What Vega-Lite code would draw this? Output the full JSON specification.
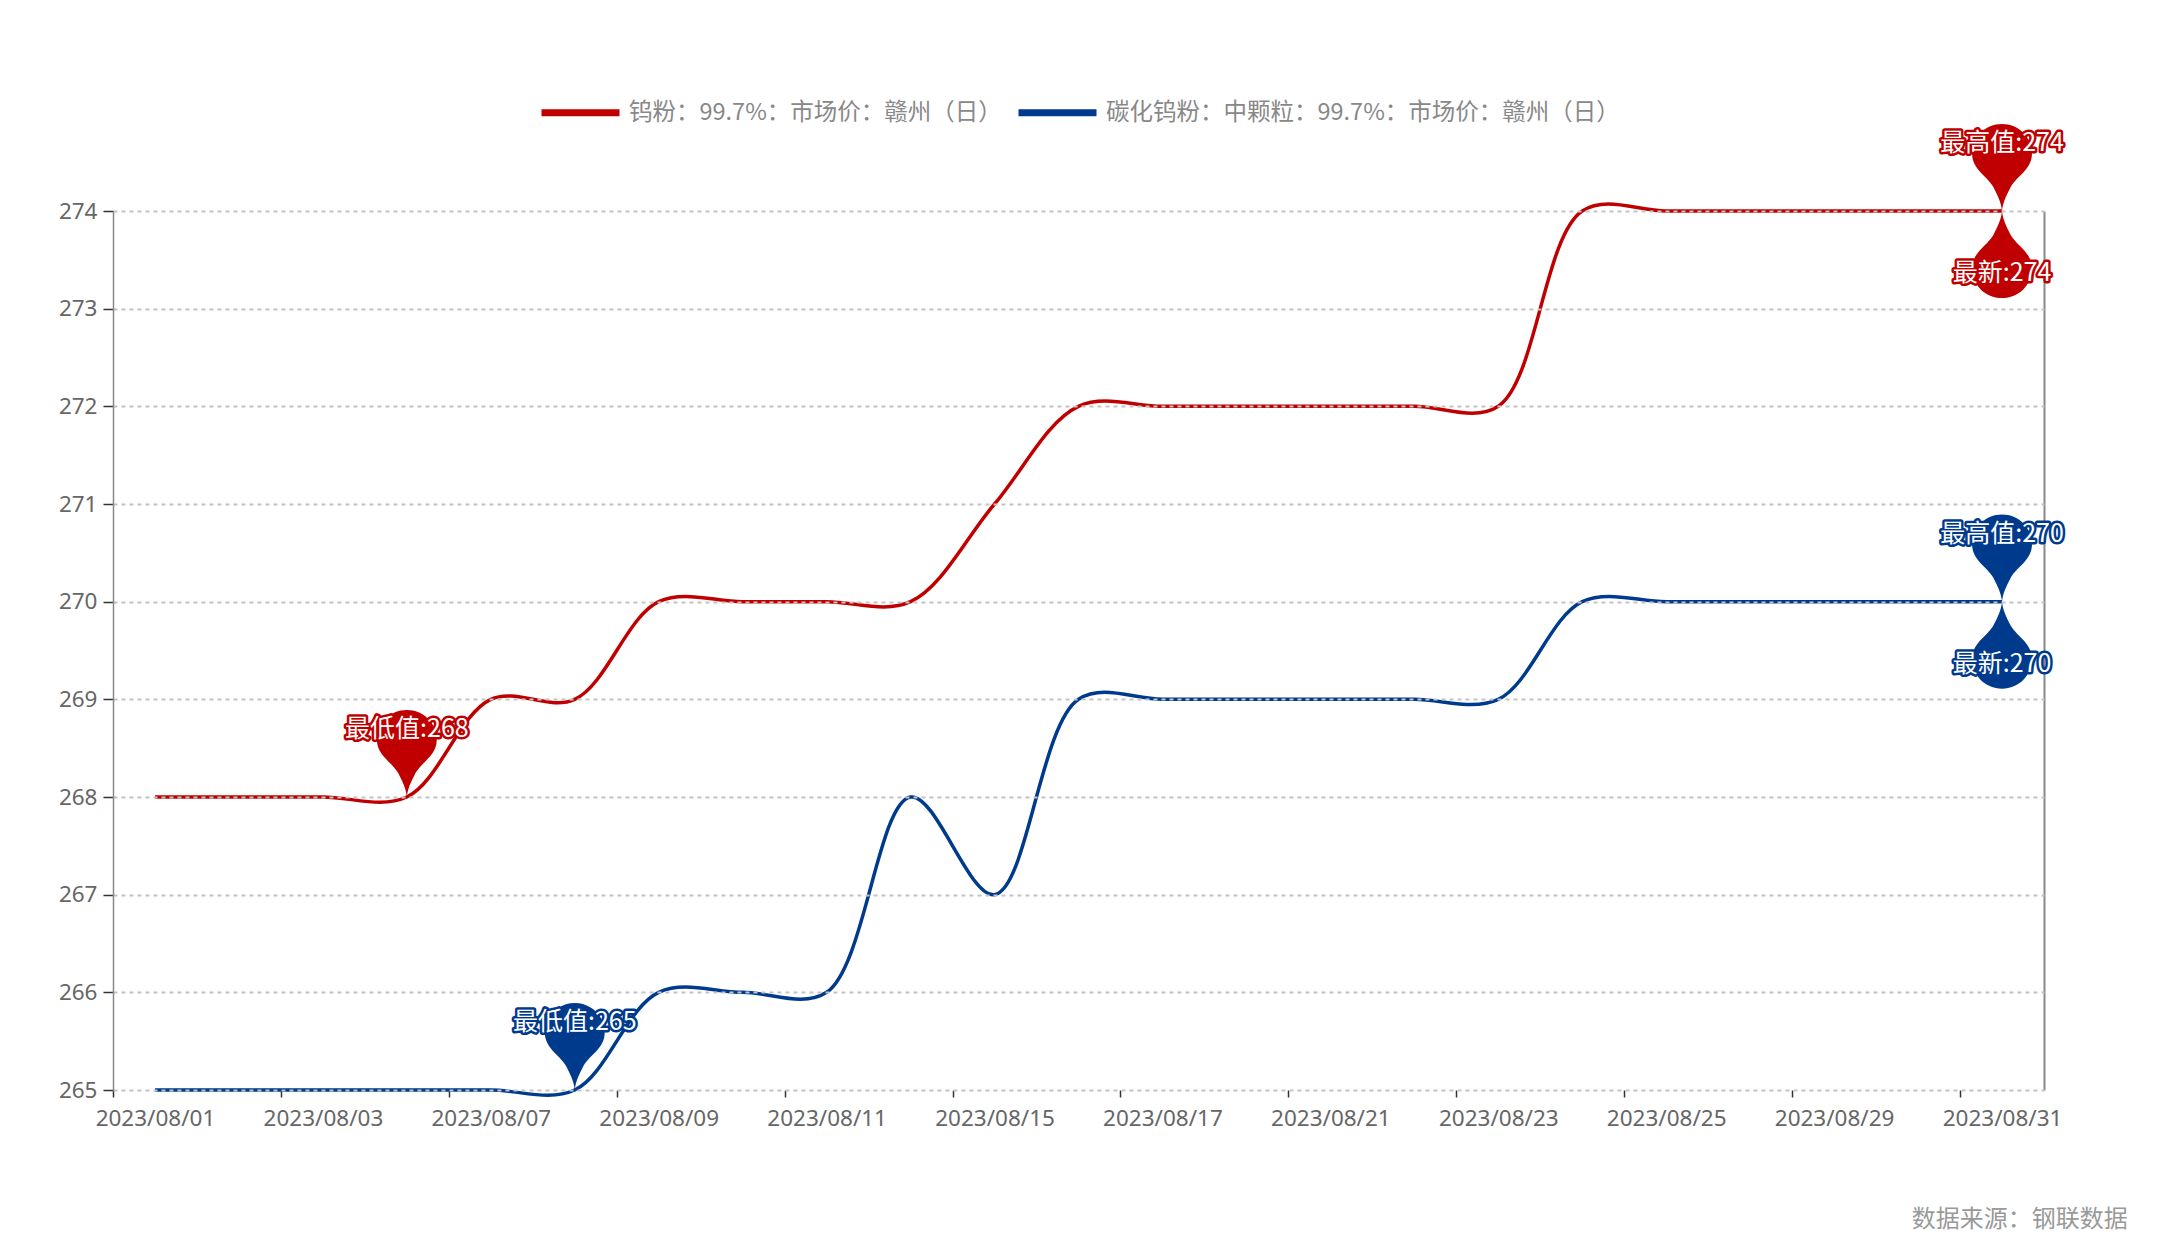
{
  "$schema": "https://vega.github.io/schema/vega-lite/v6.json",
  "width": 1931,
  "height": 879,
  "autosize": "none",
  "padding": {"left": 113, "top": 211, "right": 120, "bottom": 160},
  "background": "white",
  "config": {"view": {"stroke": null}, "font": "Noto Sans CJK SC"},
  "title": {
    "text": "数据来源：钢联数据",
    "orient": "bottom",
    "anchor": "end",
    "fontSize": 24,
    "fontWeight": "normal",
    "color": "#999999",
    "font": "Noto Sans CJK SC",
    "offset": 78,
    "dx": 64
  },
  "datasets": {
    "lines": [
      {"date": "2023/08/01", "series": "钨粉：99.7%：市场价：赣州（日）", "value": 268},
      {"date": "2023/08/02", "series": "钨粉：99.7%：市场价：赣州（日）", "value": 268},
      {"date": "2023/08/03", "series": "钨粉：99.7%：市场价：赣州（日）", "value": 268},
      {"date": "2023/08/04", "series": "钨粉：99.7%：市场价：赣州（日）", "value": 268},
      {"date": "2023/08/07", "series": "钨粉：99.7%：市场价：赣州（日）", "value": 269},
      {"date": "2023/08/08", "series": "钨粉：99.7%：市场价：赣州（日）", "value": 269},
      {"date": "2023/08/09", "series": "钨粉：99.7%：市场价：赣州（日）", "value": 270},
      {"date": "2023/08/10", "series": "钨粉：99.7%：市场价：赣州（日）", "value": 270},
      {"date": "2023/08/11", "series": "钨粉：99.7%：市场价：赣州（日）", "value": 270},
      {"date": "2023/08/14", "series": "钨粉：99.7%：市场价：赣州（日）", "value": 270},
      {"date": "2023/08/15", "series": "钨粉：99.7%：市场价：赣州（日）", "value": 271},
      {"date": "2023/08/16", "series": "钨粉：99.7%：市场价：赣州（日）", "value": 272},
      {"date": "2023/08/17", "series": "钨粉：99.7%：市场价：赣州（日）", "value": 272},
      {"date": "2023/08/18", "series": "钨粉：99.7%：市场价：赣州（日）", "value": 272},
      {"date": "2023/08/21", "series": "钨粉：99.7%：市场价：赣州（日）", "value": 272},
      {"date": "2023/08/22", "series": "钨粉：99.7%：市场价：赣州（日）", "value": 272},
      {"date": "2023/08/23", "series": "钨粉：99.7%：市场价：赣州（日）", "value": 272},
      {"date": "2023/08/24", "series": "钨粉：99.7%：市场价：赣州（日）", "value": 274},
      {"date": "2023/08/25", "series": "钨粉：99.7%：市场价：赣州（日）", "value": 274},
      {"date": "2023/08/28", "series": "钨粉：99.7%：市场价：赣州（日）", "value": 274},
      {"date": "2023/08/29", "series": "钨粉：99.7%：市场价：赣州（日）", "value": 274},
      {"date": "2023/08/30", "series": "钨粉：99.7%：市场价：赣州（日）", "value": 274},
      {"date": "2023/08/31", "series": "钨粉：99.7%：市场价：赣州（日）", "value": 274},
      {"date": "2023/08/01", "series": "碳化钨粉：中颗粒：99.7%：市场价：赣州（日）", "value": 265},
      {"date": "2023/08/02", "series": "碳化钨粉：中颗粒：99.7%：市场价：赣州（日）", "value": 265},
      {"date": "2023/08/03", "series": "碳化钨粉：中颗粒：99.7%：市场价：赣州（日）", "value": 265},
      {"date": "2023/08/04", "series": "碳化钨粉：中颗粒：99.7%：市场价：赣州（日）", "value": 265},
      {"date": "2023/08/07", "series": "碳化钨粉：中颗粒：99.7%：市场价：赣州（日）", "value": 265},
      {"date": "2023/08/08", "series": "碳化钨粉：中颗粒：99.7%：市场价：赣州（日）", "value": 265},
      {"date": "2023/08/09", "series": "碳化钨粉：中颗粒：99.7%：市场价：赣州（日）", "value": 266},
      {"date": "2023/08/10", "series": "碳化钨粉：中颗粒：99.7%：市场价：赣州（日）", "value": 266},
      {"date": "2023/08/11", "series": "碳化钨粉：中颗粒：99.7%：市场价：赣州（日）", "value": 266},
      {"date": "2023/08/14", "series": "碳化钨粉：中颗粒：99.7%：市场价：赣州（日）", "value": 268},
      {"date": "2023/08/15", "series": "碳化钨粉：中颗粒：99.7%：市场价：赣州（日）", "value": 267},
      {"date": "2023/08/16", "series": "碳化钨粉：中颗粒：99.7%：市场价：赣州（日）", "value": 269},
      {"date": "2023/08/17", "series": "碳化钨粉：中颗粒：99.7%：市场价：赣州（日）", "value": 269},
      {"date": "2023/08/18", "series": "碳化钨粉：中颗粒：99.7%：市场价：赣州（日）", "value": 269},
      {"date": "2023/08/21", "series": "碳化钨粉：中颗粒：99.7%：市场价：赣州（日）", "value": 269},
      {"date": "2023/08/22", "series": "碳化钨粉：中颗粒：99.7%：市场价：赣州（日）", "value": 269},
      {"date": "2023/08/23", "series": "碳化钨粉：中颗粒：99.7%：市场价：赣州（日）", "value": 269},
      {"date": "2023/08/24", "series": "碳化钨粉：中颗粒：99.7%：市场价：赣州（日）", "value": 270},
      {"date": "2023/08/25", "series": "碳化钨粉：中颗粒：99.7%：市场价：赣州（日）", "value": 270},
      {"date": "2023/08/28", "series": "碳化钨粉：中颗粒：99.7%：市场价：赣州（日）", "value": 270},
      {"date": "2023/08/29", "series": "碳化钨粉：中颗粒：99.7%：市场价：赣州（日）", "value": 270},
      {"date": "2023/08/30", "series": "碳化钨粉：中颗粒：99.7%：市场价：赣州（日）", "value": 270},
      {"date": "2023/08/31", "series": "碳化钨粉：中颗粒：99.7%：市场价：赣州（日）", "value": 270}
    ],
    "marks": [
      {"date": "2023/08/04", "series": "钨粉：99.7%：市场价：赣州（日）", "value": 268, "dir": "down", "label": "最低值:268"},
      {"date": "2023/08/31", "series": "钨粉：99.7%：市场价：赣州（日）", "value": 274, "dir": "down", "label": "最高值:274"},
      {"date": "2023/08/31", "series": "钨粉：99.7%：市场价：赣州（日）", "value": 274, "dir": "up", "label": "最新:274"},
      {"date": "2023/08/08", "series": "碳化钨粉：中颗粒：99.7%：市场价：赣州（日）", "value": 265, "dir": "down", "label": "最低值:265"},
      {"date": "2023/08/31", "series": "碳化钨粉：中颗粒：99.7%：市场价：赣州（日）", "value": 270, "dir": "down", "label": "最高值:270"},
      {"date": "2023/08/31", "series": "碳化钨粉：中颗粒：99.7%：市场价：赣州（日）", "value": 270, "dir": "up", "label": "最新:270"}
    ]
  },
  "layer": [
    {
      "data": {"name": "lines"},
      "mark": {"type": "line", "interpolate": "catmull-rom", "strokeWidth": 3.5},
      "encoding": {
        "x": {
          "field": "date", "type": "ordinal",
          "scale": {"type": "point", "padding": 0.5},
          "axis": {
            "title": null,
            "values": ["2023/08/01","2023/08/03","2023/08/07","2023/08/09","2023/08/11","2023/08/15","2023/08/17","2023/08/21","2023/08/23","2023/08/25","2023/08/29","2023/08/31"],
            "labelAngle": 0,
            "labelFontSize": 22.5,
            "labelFont": "Noto Sans",
            "labelColor": "#666666",
            "labelPadding": 10,
            "tickColor": "#333333",
            "tickSize": 7,
            "tickWidth": 1.5,
            "tickOffset": -41.98,
            "labelOffset": 41.98,
            "domain": false,
            "grid": false
          }
        },
        "y": {
          "field": "value", "type": "quantitative",
          "scale": {"domain": [265, 274], "nice": false, "zero": false},
          "axis": {
            "title": null,
            "values": [265,266,267,268,269,270,271,272,273,274],
            "labelFontSize": 22.5,
            "labelFont": "Noto Sans",
            "labelColor": "#666666",
            "labelPadding": 6,
            "tickColor": "#333333",
            "tickSize": 10,
            "tickWidth": 1.5,
            "domainColor": "#888888",
            "domainWidth": 1.5,
            "gridColor": "#c4c4c4",
            "gridDash": [4, 4],
            "gridWidth": 2,
            "zindex": 1
          }
        },
        "color": {
          "field": "series", "type": "nominal",
          "scale": {"domain": ["钨粉：99.7%：市场价：赣州（日）", "碳化钨粉：中颗粒：99.7%：市场价：赣州（日）"], "range": ["#C00000", "#003A8C"]},
          "legend": {
            "orient": "none",
            "legendX": 425,
            "legendY": -141,
            "direction": "horizontal",
            "title": null,
            "symbolType": "stroke",
            "symbolSize": 6084,
            "symbolStrokeWidth": 7,
            "labelFontSize": 23.5,
            "labelFont": "Noto Sans CJK SC",
            "labelColor": "#888888",
            "labelLimit": 1000,
            "labelOffset": 6,
            "columnPadding": 2,
            "padding": 0
          }
        }
      }
    },
    {
      "data": {"name": "marks"},
      "mark": {"type": "point", "filled": true, "size": 7744, "opacity": 1, "strokeWidth": 0},
      "encoding": {
        "x": {"field": "date", "type": "ordinal", "scale": {"type": "point", "padding": 0.5}},
        "y": {
          "field": "value", "type": "quantitative",
          "axis": {"orient": "right", "labels": false, "ticks": false, "grid": false, "domain": true, "domainColor": "#888888", "domainWidth": 2, "title": null}
        },
        "fill": {
          "field": "series", "type": "nominal",
          "scale": {"domain": ["钨粉：99.7%：市场价：赣州（日）", "碳化钨粉：中颗粒：99.7%：市场价：赣州（日）"], "range": ["#C00000", "#003A8C"]},
          "legend": null
        },
        "shape": {
          "field": "dir", "type": "nominal",
          "scale": {"domain": ["down", "up"], "range": [
            "M0,0 C-0.02,-0.2 -0.1,-0.35 -0.2,-0.55 C-0.35,-0.8 -0.68,-0.95 -0.68,-1.3 C-0.68,-1.68 -0.38,-1.98 0,-1.98 C0.38,-1.98 0.68,-1.68 0.68,-1.3 C0.68,-0.95 0.35,-0.8 0.2,-0.55 C0.1,-0.35 0.02,-0.2 0,0 Z",
            "M0,0 C-0.02,0.2 -0.1,0.35 -0.2,0.55 C-0.35,0.8 -0.68,0.95 -0.68,1.3 C-0.68,1.68 -0.38,1.98 0,1.98 C0.38,1.98 0.68,1.68 0.68,1.3 C0.68,0.95 0.35,0.8 0.2,0.55 C0.1,0.35 0.02,0.2 0,0 Z"
          ]},
          "legend": null
        }
      }
    },
    {
      "data": {"name": "marks"},
      "transform": [{"filter": "datum.dir === 'down'"}],
      "mark": {"type": "text", "font": "Noto Sans CJK SC", "fontSize": 25, "align": "center", "baseline": "middle", "dy": -68, "fill": "white", "strokeWidth": 5, "strokeJoin": "round"},
      "encoding": {
        "x": {"field": "date", "type": "ordinal", "scale": {"type": "point", "padding": 0.5}},
        "y": {"field": "value", "type": "quantitative", "axis": null},
        "text": {"field": "label"},
        "stroke": {
          "field": "series", "type": "nominal",
          "scale": {"domain": ["钨粉：99.7%：市场价：赣州（日）", "碳化钨粉：中颗粒：99.7%：市场价：赣州（日）"], "range": ["#C00000", "#003A8C"]},
          "legend": null
        }
      }
    },
    {
      "data": {"name": "marks"},
      "transform": [{"filter": "datum.dir === 'down'"}],
      "mark": {"type": "text", "font": "Noto Sans CJK SC", "fontSize": 25, "align": "center", "baseline": "middle", "dy": -68, "fill": "white"},
      "encoding": {
        "x": {"field": "date", "type": "ordinal", "scale": {"type": "point", "padding": 0.5}},
        "y": {"field": "value", "type": "quantitative", "axis": null},
        "text": {"field": "label"}
      }
    },
    {
      "data": {"name": "marks"},
      "transform": [{"filter": "datum.dir === 'up'"}],
      "mark": {"type": "text", "font": "Noto Sans CJK SC", "fontSize": 25, "align": "center", "baseline": "middle", "dy": 62, "fill": "white", "strokeWidth": 5, "strokeJoin": "round"},
      "encoding": {
        "x": {"field": "date", "type": "ordinal", "scale": {"type": "point", "padding": 0.5}},
        "y": {"field": "value", "type": "quantitative", "axis": null},
        "text": {"field": "label"},
        "stroke": {
          "field": "series", "type": "nominal",
          "scale": {"domain": ["钨粉：99.7%：市场价：赣州（日）", "碳化钨粉：中颗粒：99.7%：市场价：赣州（日）"], "range": ["#C00000", "#003A8C"]},
          "legend": null
        }
      }
    },
    {
      "data": {"name": "marks"},
      "transform": [{"filter": "datum.dir === 'up'"}],
      "mark": {"type": "text", "font": "Noto Sans CJK SC", "fontSize": 25, "align": "center", "baseline": "middle", "dy": 62, "fill": "white"},
      "encoding": {
        "x": {"field": "date", "type": "ordinal", "scale": {"type": "point", "padding": 0.5}},
        "y": {"field": "value", "type": "quantitative", "axis": null},
        "text": {"field": "label"}
      }
    }
  ],
  "resolve": {"axis": {"y": "independent"}}
}
